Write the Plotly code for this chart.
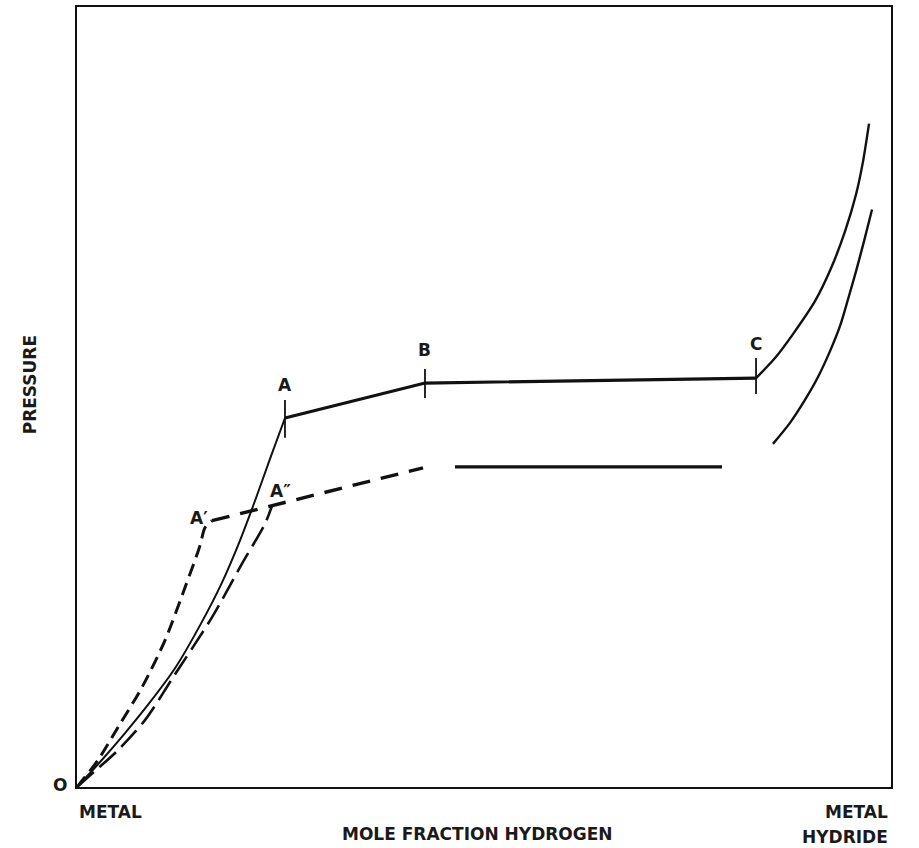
import plotly.graph_objects as go

# ---- data (x: mole fraction hydrogen, 0 = metal .. 100 = metal hydride; y: pressure, arbitrary 0..100) ----
solid_rise_x = [0, 2.83, 5.90, 8.97, 12.04, 15.11, 17.81, 20.02, 21.87, 23.71, 25.55]
solid_rise_y = [0, 3.20, 6.91, 10.87, 15.22, 20.72, 26.21, 31.59, 36.70, 42.07, 47.31]

plateau_x = [25.55, 42.75, 83.42]
plateau_y = [47.31, 51.79, 52.43]

hydride_upper_x = [83.42, 85.75, 87.96, 90.66, 92.63, 94.35, 95.70, 96.56, 97.30]
hydride_upper_y = [52.43, 54.99, 58.06, 62.28, 66.50, 71.23, 75.96, 80.18, 85.04]

hydride_lower_x = [85.50, 87.59, 89.43, 91.03, 92.51, 93.73, 94.72, 95.70, 96.68, 97.67]
hydride_lower_y = [43.99, 46.68, 49.62, 52.56, 55.88, 59.08, 62.53, 66.11, 69.95, 74.04]

lower_plateau_x = [46.44, 79.24]
lower_plateau_y = [41.05, 41.05]

aprime_rise_x = [0, 2.58, 5.04, 7.99, 10.81, 13.27, 15.11, 15.72, 16.58]
aprime_rise_y = [0, 3.45, 7.67, 12.79, 18.80, 25.58, 30.95, 33.25, 34.14]

aprime_slope_x = [16.58, 42.51]
aprime_slope_y = [34.14, 40.92]

adouble_rise_x = [0, 2.21, 5.04, 8.35, 12.04, 16.58, 20.27, 23.10, 23.96]
adouble_rise_y = [0, 2.05, 4.73, 8.57, 14.45, 21.74, 28.64, 33.76, 36.06]

tick_x = [25.55, 42.75, 83.42]
tick_lo = [44.76, 49.87, 50.38]
tick_hi = [49.62, 53.58, 54.99]

label_text = ["A", "B", "C", "A′", "A″"]
label_x = [25.55, 42.75, 83.42, 14.99, 24.94]
label_y = [51.53, 56.01, 56.78, 34.53, 37.98]

FONT = dict(family="DejaVu Sans", size=17, color="#1a1a1a", weight="bold")
INK = "#111111"

fig = go.Figure()

def add(x, y, width=2.2, dash="solid", shape="linear"):
    line = dict(color=INK, width=width, dash=dash, shape=shape)
    if shape == "spline":
        line["smoothing"] = 0.8
    fig.add_trace(go.Scatter(x=x, y=y, mode="lines", hoverinfo="skip", line=line))

add(solid_rise_x, solid_rise_y, 2.0, shape="spline")
add(plateau_x, plateau_y, 3.2)
add(hydride_upper_x, hydride_upper_y, 2.4, shape="spline")
add(hydride_lower_x, hydride_lower_y, 2.4, shape="spline")
add(lower_plateau_x, lower_plateau_y, 3.2)
add(aprime_rise_x, aprime_rise_y, 3.0, dash="13px,7px", shape="spline")
add(aprime_slope_x, aprime_slope_y, 3.4, dash="18px,11px")
add(adouble_rise_x, adouble_rise_y, 2.6, dash="22px,8px", shape="spline")

for tx, lo, hi in zip(tick_x, tick_lo, tick_hi):
    add([tx, tx], [lo, hi], 1.8)

for t, x, y in zip(label_text, label_x, label_y):
    fig.add_annotation(x=x, y=y, text=t, showarrow=False, font=FONT,
                       xanchor="center", yanchor="middle")

# axis labels
fig.add_annotation(xref="paper", yref="paper", x=-0.0209, y=0.0026, text="O", showarrow=False,
                   font=FONT, xanchor="center", yanchor="middle")
fig.add_annotation(xref="paper", yref="paper", x=0.0, y=-0.032, text="METAL", showarrow=False,
                   font=FONT, xanchor="left", yanchor="middle")
fig.add_annotation(xref="paper", yref="paper", x=0.9988, y=-0.032, text="METAL", showarrow=False,
                   font=FONT, xanchor="right", yanchor="middle")
fig.add_annotation(xref="paper", yref="paper", x=0.9988, y=-0.064, text="HYDRIDE", showarrow=False,
                   font=FONT, xanchor="right", yanchor="middle")
fig.add_annotation(xref="paper", yref="paper", x=0.4926, y=-0.060, text="MOLE FRACTION HYDROGEN",
                   showarrow=False, font=FONT, xanchor="center", yanchor="middle")
fig.add_annotation(xref="paper", yref="paper", x=-0.0577, y=0.515, text="PRESSURE", textangle=-90,
                   showarrow=False, font=FONT, xanchor="center", yanchor="middle")

axis = dict(range=[0, 100], showgrid=False, zeroline=False, showticklabels=False, ticks="",
            showline=True, linecolor=INK, linewidth=2.2, mirror=True, fixedrange=True)
fig.update_layout(width=919, height=848, margin=dict(l=77, r=28, t=5, b=61),
                  paper_bgcolor="white", plot_bgcolor="white", showlegend=False,
                  xaxis=axis, yaxis=axis)

fig.write_html("out.html", config={"displayModeBar": False},
               post_script="document.body.style.margin='0px';")
